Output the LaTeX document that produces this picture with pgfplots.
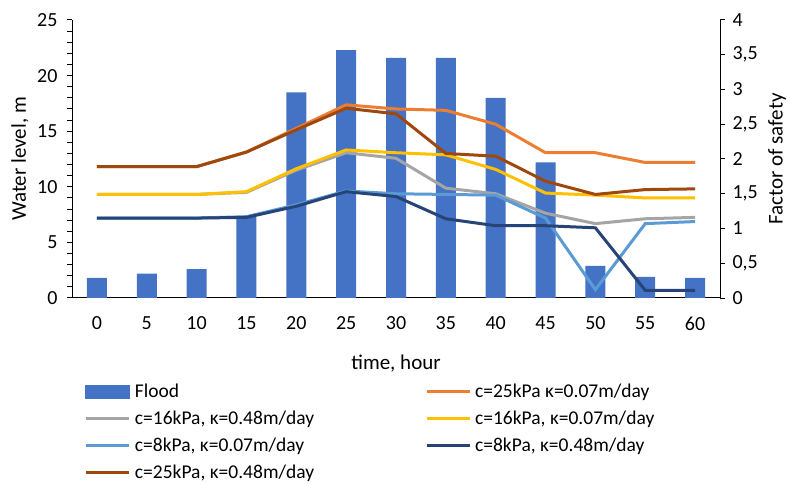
\documentclass[border=0pt]{standalone}
\usepackage{fontspec}
\setmainfont{Carlito}
\usepackage{pgfplots}
\pgfplotsset{compat=1.18}
\definecolor{floodblue}{HTML}{4472C4}
\definecolor{xorange}{HTML}{ED7D31}
\definecolor{xgray}{HTML}{A5A5A5}
\definecolor{xyellow}{HTML}{FFC000}
\definecolor{xlblue}{HTML}{5B9BD5}
\definecolor{xdblue}{HTML}{264478}
\definecolor{xbrown}{HTML}{9E480E}
\begin{document}
\begin{tikzpicture}
\pgfplotsset{
  every axis/.append style={
    scale only axis, width=648bp, height=278bp,
    at={(72bp,187bp)}, anchor=south west,
    xmin=-0.5, xmax=12.5,
    /pgf/number format/assume math mode=true,
    tick label style={font=\fontsize{20bp}{24bp}\selectfont},
    label style={font=\fontsize{21bp}{25bp}\selectfont},
    axis line style={black, line width=1bp},
    tick style={black, line width=1bp},
  }
}
\begin{axis}[
  axis y line*=left, axis x line*=bottom,
  ymin=0, ymax=25, ytick={0,5,...,25},
  minor y tick num=4,
  tick align=outside,
  major tick length=5bp, minor tick length=5bp,
  xtick={0,1,...,12},
  xticklabels={0,5,10,15,20,25,30,35,40,45,50,55,60},
  x tick style={draw=none},
  xticklabel style={yshift=-10bp},
  yticklabel style={xshift=-6bp},
  xlabel={time, hour},
  xlabel style={at={(axis description cs:0.5,0)}, anchor=center, yshift=-66bp},
  ylabel={Water level, m},
  ylabel style={at={(axis description cs:-0.0802,0.5)}, anchor=center, rotate=0},
  ybar, bar width=20bp,
]
\addplot[fill=floodblue, draw=none, bar shift=0pt] coordinates {
(0,1.8) (1,2.2) (2,2.6) (3,7.3) (4,18.5) (5,22.3) (6,21.6) (7,21.6) (8,18.0) (9,12.2) (10,2.9) (11,1.9) (12,1.8)};
\end{axis}
\begin{axis}[
  axis y line*=right, axis x line=none,
  ymin=0, ymax=4, ytick={0,0.5,...,4},
  /pgf/number format/use comma,
  tick align=outside, major tick length=5bp,
  yticklabel style={xshift=4bp},
  ylabel={Factor of safety},
  ylabel style={at={(axis description cs:1.088,0.5)}, anchor=center, rotate=0},
  legend columns=2,
  legend cell align=left,
  legend image code/.code={\draw[#1] (0bp,0bp) -- (43bp,0bp);},
  legend style={
    draw=none, fill=none, inner sep=0pt, outer sep=0pt,
    at={(axis description cs:0.02,-0.31)}, anchor=north west,
    font=\fontsize{19.5bp}{23bp}\selectfont,
    nodes={inner sep=0pt},
    row sep=12bp,
    /tikz/every odd column/.append style={column sep=4bp},
    /tikz/every even column/.append style={column sep=111bp},
  },
  every axis plot/.append style={line width=3bp, no markers},
]
\addlegendimage{legend image code/.code={\fill[floodblue] (0bp,-5.5bp) rectangle (42bp,5.5bp);}}
\addlegendentry{Flood}
\addplot[xorange] coordinates {
(0,1.89) (1,1.89) (2,1.89) (3,2.10) (4,2.44) (5,2.78) (6,2.72) (7,2.70) (8,2.50) (9,2.09) (10,2.09) (11,1.95) (12,1.95)};
\addlegendentry{c=25kPa κ=0.07m/day}
\addplot[xgray] coordinates {
(0,1.49) (1,1.49) (2,1.49) (3,1.52) (4,1.84) (5,2.09) (6,2.01) (7,1.58) (8,1.50) (9,1.22) (10,1.07) (11,1.14) (12,1.16)};
\addlegendentry{c=16kPa, κ=0.48m/day}
\addplot[xyellow] coordinates {
(0,1.49) (1,1.49) (2,1.49) (3,1.53) (4,1.86) (5,2.13) (6,2.09) (7,2.06) (8,1.85) (9,1.51) (10,1.48) (11,1.44) (12,1.44)};
\addlegendentry{c=16kPa, κ=0.07m/day}
\addplot[xlblue] coordinates {
(0,1.15) (1,1.15) (2,1.15) (3,1.17) (4,1.34) (5,1.54) (6,1.50) (7,1.49) (8,1.48) (9,1.15) (10,0.12) (11,1.07) (12,1.10)};
\addlegendentry{c=8kPa, κ=0.07m/day}
\addplot[xdblue] coordinates {
(0,1.15) (1,1.15) (2,1.15) (3,1.16) (4,1.32) (5,1.53) (6,1.46) (7,1.14) (8,1.04) (9,1.04) (10,1.01) (11,0.11) (12,0.11)};
\addlegendentry{c=8kPa, κ=0.48m/day}
\addplot[xbrown] coordinates {
(0,1.89) (1,1.89) (2,1.89) (3,2.10) (4,2.42) (5,2.73) (6,2.65) (7,2.08) (8,2.04) (9,1.68) (10,1.49) (11,1.56) (12,1.57)};
\addlegendentry{c=25kPa, κ=0.48m/day}
\end{axis}
\pgfresetboundingbox
\path[use as bounding box] (0,0) rectangle (790bp,485bp);
\end{tikzpicture}
\end{document}
